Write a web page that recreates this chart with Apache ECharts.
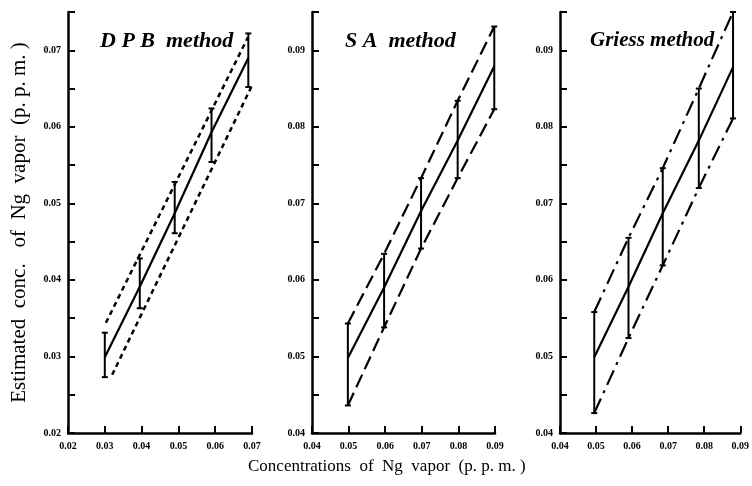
<!DOCTYPE html>
<html>
<head>
<meta charset="utf-8">
<script src="https://cdn.jsdelivr.net/npm/echarts@6/dist/echarts.min.js"></script>
<style>
  html, body { margin: 0; padding: 0; background: #fff; }
  #chart { width: 752px; height: 486px; }
</style>
</head>
<body>
<div id="chart"></div>
<script>
var chart = echarts.init(document.getElementById('chart'));

// DPB method
var dpbX   = [0.03, 0.0395, 0.049, 0.059, 0.069];
var dpbMid = [0.0299, 0.0391, 0.0487, 0.0593, 0.0690];
var dpbHi  = [0.0331, 0.0428, 0.0528, 0.0624, 0.0722];
var dpbLo  = [0.0273, 0.0363, 0.0461, 0.0554, 0.0652];
var dpbBandHiX = [0.0303, 0.0689], dpbBandHi = [0.0344, 0.0717];
var dpbBandLoX = [0.0320, 0.0700], dpbBandLo = [0.0276, 0.0654];

// SA method
var saX   = [0.0498, 0.0597, 0.0698, 0.0798, 0.0898];
var saMid = [0.0498, 0.0590, 0.0690, 0.0782, 0.0879];
var saHi  = [0.0543, 0.0634, 0.0733, 0.0834, 0.0931];
var saLo  = [0.0436, 0.0538, 0.0641, 0.0733, 0.0823];

// Griess method
var grX   = [0.0495, 0.0590, 0.0685, 0.0785, 0.0880];
var grMid = [0.0499, 0.0591, 0.0687, 0.0782, 0.0878];
var grHi  = [0.0558, 0.0655, 0.0746, 0.0850, 0.0950];
var grLo  = [0.0426, 0.0524, 0.0619, 0.0720, 0.0811];

// axis ranges [min, max] per panel
var xRanges = [[0.02, 0.07], [0.04, 0.09], [0.04, 0.09]];
var yRanges = [[0.02, 0.075], [0.04, 0.095], [0.04, 0.095]];

function zip(xs, ys) {
    return xs.map(function (x, i) { return [x, ys[i]]; });
}

function tickLabel(v) {
    if (Math.abs(v * 100 - Math.round(v * 100)) > 1e-6) return '';
    return v.toFixed(2);
}

var grids = [
    {left: 68, top: 12, width: 184, bottom: 53},
    {left: 312, top: 12, width: 183, bottom: 53},
    {left: 560, top: 12, width: 188, bottom: 53}
];

var xAxes = [], yAxes = [];
for (var i = 0; i < 3; i++) {
    xAxes.push({
        type: 'value', gridIndex: i,
        min: xRanges[i][0], max: xRanges[i][1], interval: 0.01,
        axisLine: {lineStyle: {color: '#000', width: 2.5}},
        axisTick: {inside: true, length: 7, lineStyle: {color: '#000', width: 2}},
        axisLabel: {formatter: tickLabel, color: '#000', fontSize: 10, fontWeight: 'bold',
                    fontFamily: 'Liberation Serif', margin: 8},
        splitLine: {show: false}
    });
    yAxes.push({
        type: 'value', gridIndex: i,
        min: yRanges[i][0], max: yRanges[i][1], interval: 0.005,
        axisLine: {show: true, lineStyle: {color: '#000', width: 2.5}},
        axisTick: {show: true, inside: true, length: 7, lineStyle: {color: '#000', width: 2}},
        axisLabel: {formatter: tickLabel, color: '#000', fontSize: 10, fontWeight: 'bold',
                    fontFamily: 'Liberation Serif', margin: 7},
        splitLine: {show: false}
    });
}
yAxes[0].name = 'Estimated  conc.   of  Ng  vapor  (p. p. m. )';
yAxes[0].nameLocation = 'middle';
yAxes[0].nameGap = 38;
yAxes[0].nameTextStyle = {fontFamily: 'Liberation Serif', fontSize: 21, color: '#000'};

function errorBars(idx, xs, lo, hi) {
    return {
        type: 'custom', xAxisIndex: idx, yAxisIndex: idx,
        data: xs.map(function (x, i) { return [x, lo[i], hi[i]]; }),
        renderItem: function (params, api) {
            var a = api.coord([api.value(0), api.value(1)]);
            var b = api.coord([api.value(0), api.value(2)]);
            var st = {stroke: '#000', lineWidth: 2};
            return {type: 'group', children: [
                {type: 'line', shape: {x1: a[0], y1: a[1], x2: b[0], y2: b[1]}, style: st},
                {type: 'line', shape: {x1: a[0] - 3, y1: a[1], x2: a[0] + 3, y2: a[1]}, style: st},
                {type: 'line', shape: {x1: b[0] - 3, y1: b[1], x2: b[0] + 3, y2: b[1]}, style: st}
            ]};
        },
        silent: true
    };
}

function line(idx, data, type, width) {
    return {
        type: 'line', xAxisIndex: idx, yAxisIndex: idx, data: data,
        symbol: 'none', silent: true, animation: false,
        lineStyle: {color: '#000', width: width, type: type}
    };
}

var series = [
    line(0, zip(dpbX, dpbMid), 'solid', 2.2),
    line(0, zip(dpbBandHiX, dpbBandHi), [5, 4], 2.5),
    line(0, zip(dpbBandLoX, dpbBandLo), [5, 4], 2.5),
    errorBars(0, dpbX, dpbLo, dpbHi),

    line(1, zip(saX, saMid), 'solid', 2.2),
    line(1, zip(saX, saHi), [14, 6], 2.2),
    line(1, zip(saX, saLo), [14, 6], 2.2),
    errorBars(1, saX, saLo, saHi),

    line(2, zip(grX, grMid), 'solid', 2.2),
    line(2, zip(grX, grHi), [16, 6, 3, 6], 2.2),
    line(2, zip(grX, grLo), [16, 6, 3, 6], 2.2),
    errorBars(2, grX, grLo, grHi)
];

var option = {
    backgroundColor: '#fff',
    animation: false,
    grid: grids,
    xAxis: xAxes,
    yAxis: yAxes,
    series: series,
    graphic: [
        {type: 'text', left: 100, top: 30,
         style: {text: 'D P B  method', font: 'italic bold 22px "Liberation Serif"', fill: '#000'}},
        {type: 'text', left: 345, top: 30,
         style: {text: 'S A  method', font: 'italic bold 22px "Liberation Serif"', fill: '#000'}},
        {type: 'text', left: 590, top: 30,
         style: {text: 'Griess method', font: 'italic bold 21px "Liberation Serif"', fill: '#000'}},
        {type: 'text', left: 248, top: 458,
         style: {text: 'Concentrations  of  Ng  vapor  (p. p. m. )', font: '17px "Liberation Serif"', fill: '#000'}}
    ]
};

chart.setOption(option);
</script>
</body>
</html>
